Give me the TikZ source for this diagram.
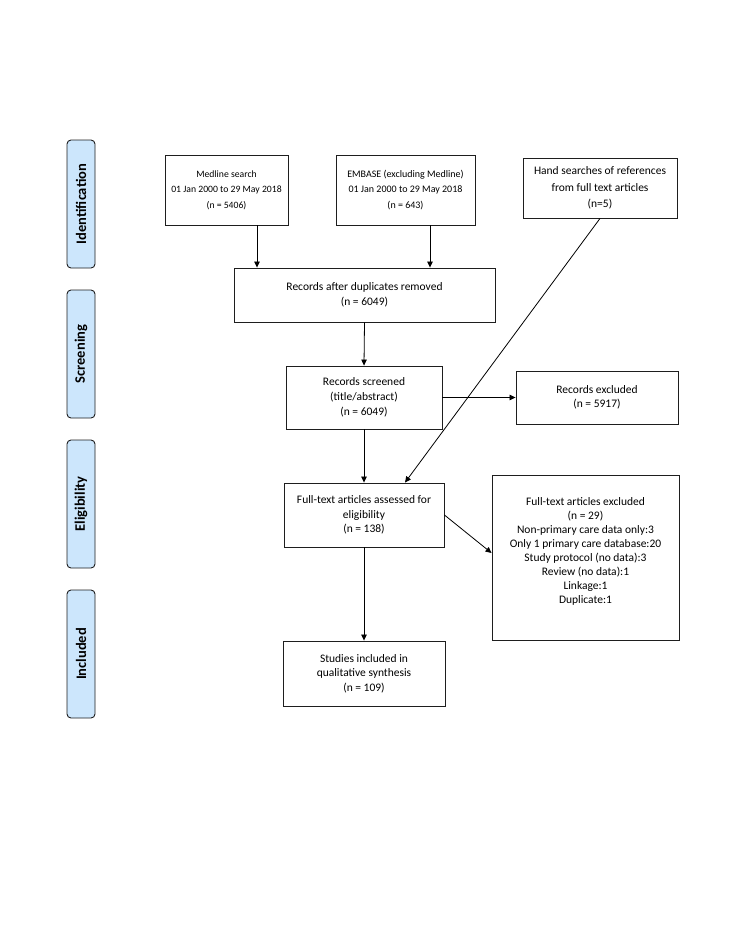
\documentclass[tikz,border=0pt]{standalone}
\usepackage{fontspec}
\setmainfont{Carlito}
\usetikzlibrary{arrows.meta}
\definecolor{barfill}{RGB}{204,230,252}
\definecolor{lineclr}{RGB}{30,30,30}
\begin{document}
\begin{tikzpicture}[x=1pt,y=-1pt,
  box/.style={draw=lineclr,line width=0.9pt,rectangle,inner sep=0pt,align=center,
    font=\fontsize{11.5}{14.5}\selectfont},
  txt/.style={inner sep=0pt,align=center,font=\fontsize{11.5}{14}\selectfont},
  bar/.style={draw=lineclr,line width=0.9pt,fill=barfill,rounded corners=4pt,
    minimum width=28pt,minimum height=128pt,inner sep=0pt},
  bartxt/.style={rotate=90,font=\fontsize{14.5}{16}\selectfont\bfseries,inner sep=0pt},
  arr/.style={draw=black,line width=0.8pt,-{Triangle[length=6pt,width=5.5pt]}}]
\useasboundingbox (0,0) rectangle (740,943);
% side bars
\node[bar] (b1) at (81,204) {};
\node[bartxt] (t1) at (b1.center) {Identification};
\node[bar] (b2) at (81,354) {};
\node[bartxt] (t2) at (b2.center) {Screening};
\node[bar] (b3) at (81,504) {};
\node[bartxt] (t3) at (b3.center) {Eligibility};
\node[bar] (b4) at (81,654) {};
\node[bartxt] (t4) at (b4.center) {Included};
% boxes
\node[box,minimum width=123pt,minimum height=70pt,font=\fontsize{9.7}{15.5}\selectfont] (medline) at (226.5,190)
  {Medline search\\01 Jan 2000 to 29 May 2018\\(n = 5406)};
\node[box,minimum width=139pt,minimum height=70pt,font=\fontsize{10}{15.5}\selectfont] (embase) at (405.5,190)
  {EMBASE (excluding Medline)\\01 Jan 2000 to 29 May 2018\\(n = 643)};
\node[box,minimum width=154pt,minimum height=60pt,font=\fontsize{11.5}{16.5}\selectfont] (hand) at (600,188)
  {Hand searches of references\\from full text articles\\(n=5)};
\node[box,minimum width=261pt,minimum height=54pt] (dup) at (364.5,295)
  {Records after duplicates removed\\(n = 6049)};
\node[box,minimum width=156pt,minimum height=63pt,font=\fontsize{11.5}{15}\selectfont] (screened) at (364,397.5)
  {Records screened\\(title/abstract)\\(n = 6049)};
\node[box,minimum width=162pt,minimum height=53pt] (excluded) at (597,397.5)
  {Records excluded\\(n = 5917)};
\node[box,minimum width=160pt,minimum height=64pt] (fulltext) at (364,515)
  {Full-text articles assessed for\\eligibility\\(n = 138)};
\node[box,minimum width=187pt,minimum height=165pt] (ftexcl) at (585.5,557.5) {};
\node[txt] (ftexcltxt) at (585.5,551)
  {Full-text articles excluded\\(n = 29)\\Non-primary care data only:3\\Only 1 primary care database:20\\Study protocol (no data):3\\Review (no data):1\\Linkage:1\\Duplicate:1};
\node[box,minimum width=162pt,minimum height=65pt] (studies) at (364,673.5)
  {Studies included in\\qualitative synthesis\\(n = 109)};
% connectors
\draw[arr] ([xshift=30.5pt]medline.south) -- ([xshift=30.5pt]medline.south |- dup.north);
\draw[arr] ([xshift=24.5pt]embase.south) -- ([xshift=24.5pt]embase.south |- dup.north);
\draw[arr] (dup.south) -- (screened.north);
\draw[arr] (screened.east) -- (screened.east -| excluded.west);
\draw[arr] (screened.south) -- (fulltext.north);
\draw[arr] (hand.south) -- ([xshift=41pt]fulltext.north);
\draw[arr] (fulltext.east) -- ([yshift=4.5pt]ftexcl.west);
\draw[arr] (fulltext.south) -- (studies.north);
\end{tikzpicture}
\end{document}
